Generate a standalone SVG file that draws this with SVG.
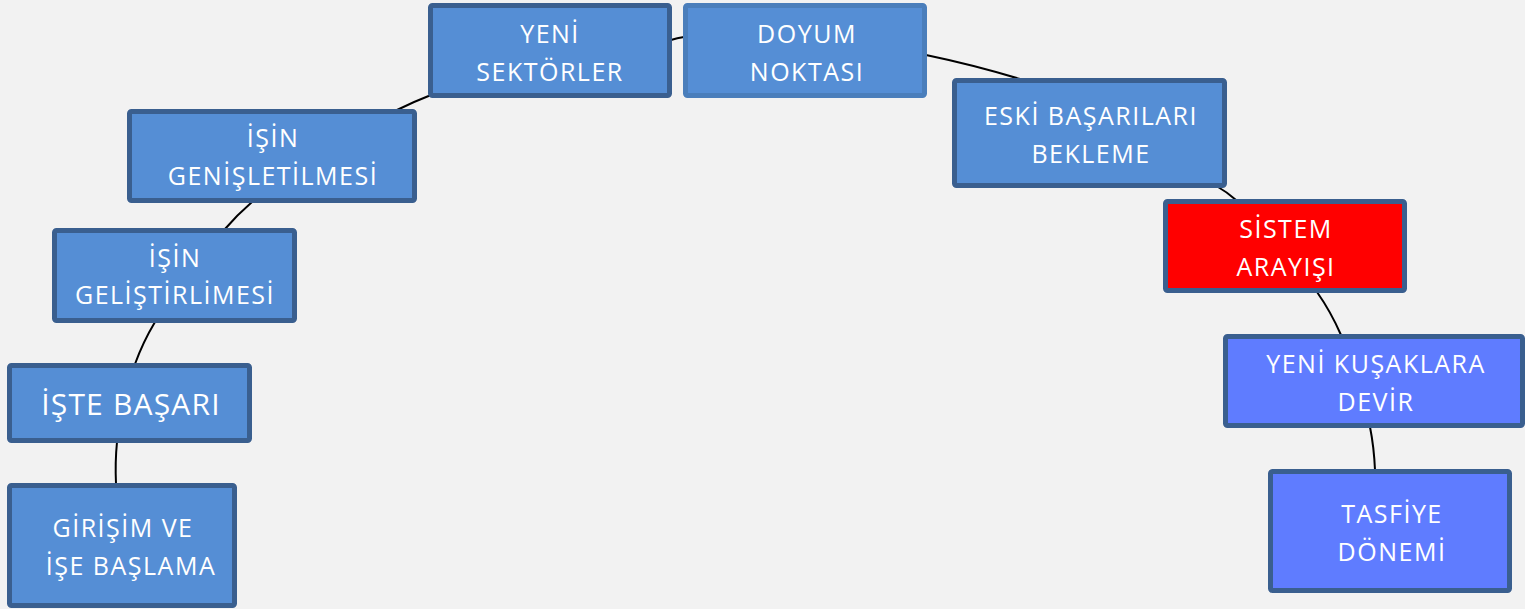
<svg xmlns="http://www.w3.org/2000/svg" width="1525" height="609" viewBox="0 0 1525 609">
<style>
.bg{fill:#F2F2F2}
.box{fill:#558ED5;stroke:#3A5F8F;stroke-width:5}
.lite{stroke:#4A7EBB}
.red{fill:#FF0000}
.vio{fill:#5F7CFF}
.lbl{font-family:"Open Sans","Noto Sans",sans-serif;font-size:25px;letter-spacing:1.5px;fill:#FFFFFF;text-anchor:middle}
.big{font-size:30px;letter-spacing:1.2px}
.con{fill:none;stroke:#000000;stroke-width:2}
</style>
<rect class="bg" x="0" y="0" width="1525" height="609"/>
<g id="connectors">
<path class="con" d="M116,484 Q115,462 117,442"/>
<path class="con" d="M135,364 Q143,342 155,322"/>
<path class="con" d="M225,229 Q237,215 252,202"/>
<path class="con" d="M397,110 Q413,102 431,95"/>
<path class="con" d="M671,40 Q677,38 684,37"/>
<path class="con" d="M926,55 Q974,65 1020,79"/>
<path class="con" d="M1218,187 Q1227,192 1236,200"/>
<path class="con" d="M1317,292 Q1331,312 1341,335"/>
<path class="con" d="M1370,427 Q1374,447 1375,470"/>
</g>
<g id="n-girisim">
<rect class="box" x="9.5" y="485.5" width="225" height="120" rx="2"/>
<text class="lbl" x="123" y="537">GİRİŞİM VE</text>
<text class="lbl" x="131" y="575">İŞE BAŞLAMA</text>
</g>
<g id="n-iste-basari">
<rect class="box" x="9.5" y="365.5" width="240" height="75" rx="2"/>
<text class="lbl big" x="131" y="415">İŞTE BAŞARI</text>
</g>
<g id="n-gelistirilmesi">
<rect class="box" x="54.5" y="230.5" width="240" height="90" rx="2"/>
<text class="lbl" x="175" y="267">İŞİN</text>
<text class="lbl" x="175" y="304">GELİŞTİRLİMESİ</text>
</g>
<g id="n-genisletilmesi">
<rect class="box" x="129.5" y="111.5" width="285" height="89" rx="2"/>
<text class="lbl" x="273" y="147">İŞİN</text>
<text class="lbl" x="273" y="185">GENİŞLETİLMESİ</text>
</g>
<g id="n-yeni-sektorler">
<rect class="box" x="430.5" y="5.5" width="239" height="90" rx="2"/>
<text class="lbl" x="550" y="43">YENİ</text>
<text class="lbl" x="550" y="81">SEKTÖRLER</text>
</g>
<g id="n-doyum">
<rect class="box lite" x="685.5" y="5.5" width="239" height="90" rx="2"/>
<text class="lbl" x="807" y="43">DOYUM</text>
<text class="lbl" x="807" y="81">NOKTASI</text>
</g>
<g id="n-eski">
<rect class="box" x="954.5" y="80.5" width="270" height="105" rx="2"/>
<text class="lbl" x="1091" y="125">ESKİ BAŞARILARI</text>
<text class="lbl" x="1091" y="163">BEKLEME</text>
</g>
<g id="n-sistem">
<rect class="box red" x="1165.5" y="201.5" width="239" height="89" rx="2"/>
<text class="lbl" x="1286" y="238">SİSTEM</text>
<text class="lbl" x="1286" y="276">ARAYIŞI</text>
</g>
<g id="n-yeni-kusak">
<rect class="box vio" x="1225.5" y="336.5" width="297" height="89" rx="2"/>
<text class="lbl" x="1376" y="373">YENİ KUŞAKLARA</text>
<text class="lbl" x="1376" y="411">DEVİR</text>
</g>
<g id="n-tasfiye">
<rect class="box vio" x="1270.5" y="471.5" width="239" height="119" rx="2"/>
<text class="lbl" x="1392" y="523">TASFİYE</text>
<text class="lbl" x="1392" y="561">DÖNEMİ</text>
</g>
</svg>
